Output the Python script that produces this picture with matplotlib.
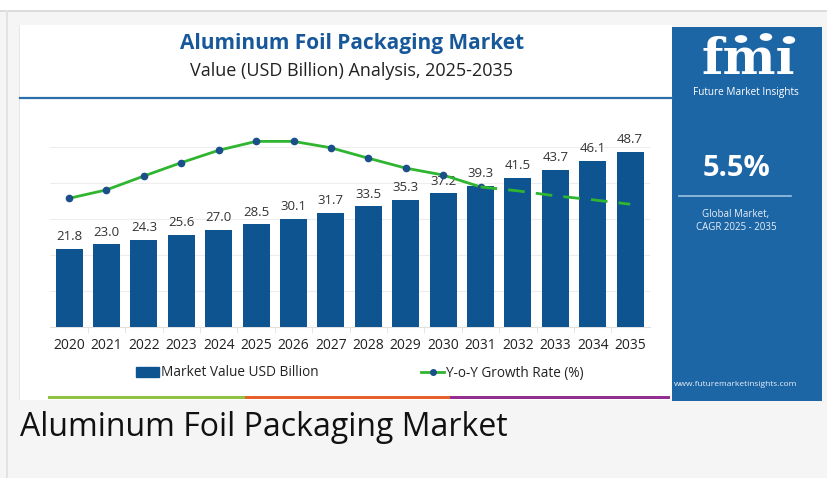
import matplotlib.pyplot as plt
from matplotlib.patches import Rectangle, Patch, Circle
from matplotlib.lines import Line2D
import numpy as np

years = ['2020', '2021', '2022', '2023', '2024', '2025', '2026', '2027',
         '2028', '2029', '2030', '2031', '2032', '2033', '2034', '2035']
market_value = [21.8, 23.0, 24.3, 25.6, 27.0, 28.5, 30.1, 31.7,
                33.5, 35.3, 37.2, 39.3, 41.5, 43.7, 46.1, 48.7]
yoy_growth = [5.60, 5.77, 6.05, 6.32, 6.57, 6.75, 6.75, 6.62,
              6.41, 6.21, 6.07, 5.83, 5.75, 5.65, 5.57, 5.48]
split_idx = 11  # forecast part drawn dashed from here

W, H = 827, 478
bar_color = '#0e5490'
side_color = '#1d66a6'
line_color = '#2fb52f'
marker_color = '#1b4f8a'

plt.rcParams['font.family'] = ['Open Sans', 'DejaVu Sans']

fig = plt.figure(figsize=(W / 100, H / 100), dpi=100)
fig.patch.set_facecolor('#f5f5f5')


def fx(px):
    return px / W


def fy(py):
    return 1 - py / H


def rect(x0, y0, x1, y1, color, z=0):
    fig.patches.append(Rectangle((fx(x0), fy(y1)), fx(x1 - x0), (y1 - y0) / H,
                                 transform=fig.transFigure, color=color,
                                 zorder=z, lw=0))


# page background pieces
rect(0, 0, W, 10, 'white')
rect(0, 10, W, 11.5, '#dcdcdc')
rect(6, 10, 8, H, '#e2e2e2')
rect(20, 25, 672, 400, 'white', 1)
rect(19, 25, 20, 400, '#e6e6e6', 1)
rect(672, 27, 822, 401, side_color, 1)

# title block
fig.text(fx(352), fy(43), 'Aluminum Foil Packaging Market', ha='center', va='center',
         fontsize=15, fontweight='bold', color='#17589a', zorder=3)
fig.text(fx(352), fy(71), 'Value (USD Billion) Analysis, 2025-2035', ha='center',
         va='center', fontsize=13, color='#222222', zorder=3)
fig.add_artist(Line2D([fx(20), fx(672)], [fy(98), fy(98)], color='#2a6eaa', lw=1.6,
                      transform=fig.transFigure, zorder=3))

# coloured strip at bottom of card
for x0, x1, c in [(48, 245, '#8cc43f'), (245, 450, '#e8602c'), (450, 670, '#93308f')]:
    rect(x0, 396, x1, 399, c, 3)

# main chart
ax = fig.add_axes([fx(50), fy(327), fx(600), 198 / H], zorder=4)
ax.patch.set_alpha(0)
x = np.arange(len(years))
ax.bar(x, market_value, width=0.72, color=bar_color, zorder=3)
for xi, v in zip(x, market_value):
    ax.annotate(f'{v:.1f}', (xi, v), xytext=(0, 4), textcoords='offset points',
                ha='center', va='bottom', fontsize=9.5, color='#333333')
ax.set_xlim(-0.51, 15.53)
ax.set_ylim(0, 55)
ax.set_yticks([0, 10, 20, 30, 40, 50])
ax.yaxis.grid(True, color='#ededed', lw=0.8, zorder=0)
ax.set_xticks(x)
ax.set_xticklabels(years, fontsize=10, color='#222222')
ax.tick_params(axis='x', length=0, pad=8)
ax.set_xticks(x[:-1] + 0.5, minor=True)
ax.tick_params(axis='x', which='minor', length=4, color='#e0e0e0')
for s in ['top', 'right', 'left']:
    ax.spines[s].set_visible(False)
ax.spines['bottom'].set_color('#e0e0e0')

ax2 = ax.twinx()
ax2.set_ylim(3, 7)
ax2.plot(x[:split_idx + 1], yoy_growth[:split_idx + 1], color=line_color, lw=2,
         marker='o', ms=4.5, mfc=marker_color, mec=marker_color, zorder=5)
ax2.plot(x[split_idx:], yoy_growth[split_idx:], color=line_color, lw=2,
         dashes=(6, 4), zorder=5)
ax2.axis('off')
ax.tick_params(axis='y', left=False, right=False, labelleft=False)

# legend
handles = [Patch(color=bar_color),
           Line2D([], [], color=line_color, lw=2, marker='o', ms=4,
                  mfc=marker_color, mec=marker_color)]
fig.legend(handles, ['Market Value USD Billion', 'Y-o-Y Growth Rate (%)'],
           loc='center', bbox_to_anchor=(fx(360), fy(373)), ncol=2, frameon=False,
           fontsize=9.8, columnspacing=7.5, handlelength=1.7, handletextpad=0.15,
           labelcolor='#222222')

# side panel
fig.text(fx(748), fy(74), 'fmı', ha='center', va='baseline', fontsize=36,
         fontweight='bold', family='DejaVu Serif', color='white', zorder=3)
for cx, cy in [(741, 39), (766, 37), (789, 40)]:
    fig.patches.append(Circle((fx(cx), fy(cy)), 5.5 / W, transform=fig.transFigure,
                              color='white', zorder=3))
fig.text(fx(746), fy(93), 'Future Market Insights', ha='center', va='center',
         fontsize=7.2, color='white', zorder=3)
fig.text(fx(736), fy(168), '5.5%', ha='center', va='center', fontsize=21,
         fontweight='bold', color='white', zorder=3)
fig.add_artist(Line2D([fx(679), fx(791)], [fy(196), fy(196)], color='#9cc4e4', lw=1.2,
                      transform=fig.transFigure, zorder=3))
fig.text(fx(736), fy(214), 'Global Market,', ha='center', va='center',
         fontsize=7, color='#e8eef6', zorder=3)
fig.text(fx(736), fy(227), 'CAGR 2025 - 2035', ha='center', va='center',
         fontsize=7, color='#e8eef6', zorder=3)
fig.text(fx(736), fy(385), 'www.futuremarketinsights.com', ha='center', va='center',
         fontsize=6, color='#e8eef6', zorder=3)

# caption under card
fig.text(fx(20), fy(428), 'Aluminum Foil Packaging Market', ha='left', va='center',
         fontsize=23, color='#111111', zorder=3)

fig.savefig('out.png', dpi=100, facecolor=fig.get_facecolor())
